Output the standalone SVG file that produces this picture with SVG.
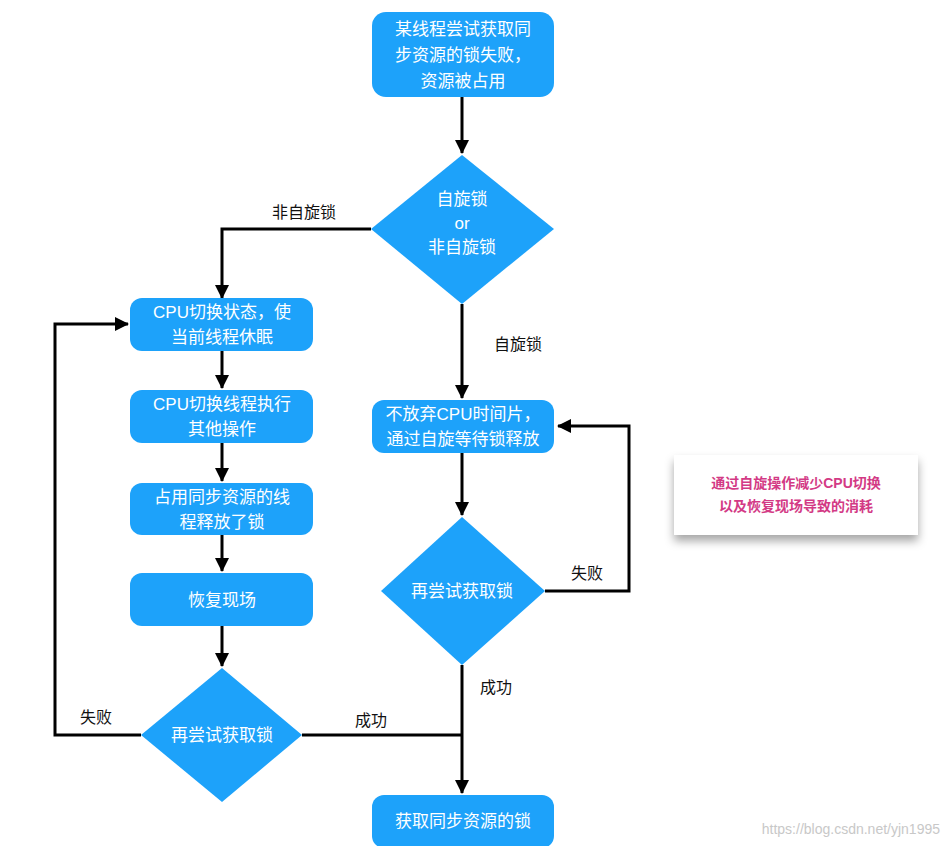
<svg xmlns="http://www.w3.org/2000/svg" width="951" height="846" viewBox="0 0 951 846">
<style>
.n{fill:#1DA2FA}
.t{fill:#fff;font-family:"Liberation Sans","Noto Sans CJK SC",sans-serif;font-size:17px;text-anchor:middle}
.l{fill:#111;font-family:"Liberation Sans","Noto Sans CJK SC",sans-serif;font-size:16px;text-anchor:middle}
.c{fill:none;stroke:#000;stroke-width:3}
</style>
<defs>
<marker id="a" markerWidth="8" markerHeight="8" refX="6" refY="4" orient="auto" markerUnits="userSpaceOnUse" viewBox="0 0 8 8"><path d="M0,0 L8,4 L0,8 Z" fill="#000"/></marker>
<marker id="b" markerWidth="14" markerHeight="14" refX="13" refY="7" orient="auto" markerUnits="userSpaceOnUse"><path d="M0,0 L14,7 L0,14 Z" fill="#000"/></marker>
<filter id="sh" x="-20%" y="-20%" width="140%" height="160%"><feDropShadow dx="0" dy="6" stdDeviation="5" flood-color="#000" flood-opacity="0.35"/></filter>
</defs>
<rect width="951" height="846" fill="#fff"/>
<g id="connectors">
<path class="c" d="M462,97 V153" marker-end="url(#b)"/>
<path class="c" d="M371,229 H222 V298" marker-end="url(#b)"/>
<path class="c" d="M462,304 V398" marker-end="url(#b)"/>
<path class="c" d="M222,351 V388" marker-end="url(#b)"/>
<path class="c" d="M222,443 V481" marker-end="url(#b)"/>
<path class="c" d="M222,535 V571" marker-end="url(#b)"/>
<path class="c" d="M222,626 V666" marker-end="url(#b)"/>
<path class="c" d="M141,735 H55 V324 H128" marker-end="url(#b)"/>
<path class="c" d="M302,735 H462"/>
<path class="c" d="M462,453 V515" marker-end="url(#b)"/>
<path class="c" d="M545,591 H629 V426 H558" marker-end="url(#b)"/>
<path class="c" d="M462,665 V793" marker-end="url(#b)"/>
<text class="l" x="304" y="218">非自旋锁</text>
<text class="l" x="518" y="350">自旋锁</text>
<text class="l" x="96" y="723">失败</text>
<text class="l" x="371" y="726">成功</text>
<text class="l" x="587" y="579">失败</text>
<text class="l" x="496" y="693">成功</text>
</g>
<g id="start"><rect class="n" x="372" y="12" width="182" height="85" rx="14"/>
<text class="t" x="463" y="35">某线程尝试获取同</text><text class="t" x="463" y="61">步资源的锁失败，</text><text class="t" x="463" y="87">资源被占用</text></g>
<g id="d1"><polygon class="n" points="462,155 554,229 462,304 371,229"/>
<text class="t" x="462" y="205">自旋锁</text><text class="t" x="462" y="229">or</text><text class="t" x="462" y="253">非自旋锁</text></g>
<g id="l1"><rect class="n" x="130" y="298" width="183" height="53" rx="12"/><text class="t" x="222" y="318">CPU切换状态，使</text><text class="t" x="222" y="343">当前线程休眠</text></g>
<g id="l2"><rect class="n" x="130" y="390" width="183" height="53" rx="12"/><text class="t" x="222" y="410">CPU切换线程执行</text><text class="t" x="222" y="435">其他操作</text></g>
<g id="l3"><rect class="n" x="130" y="483" width="183" height="52" rx="12"/><text class="t" x="222" y="503">占用同步资源的线</text><text class="t" x="222" y="528">程释放了锁</text></g>
<g id="l4"><rect class="n" x="130" y="573" width="183" height="53" rx="12"/><text class="t" x="222" y="606">恢复现场</text></g>
<g id="d2"><polygon class="n" points="222,668 302,735 222,802 141,735"/><text class="t" x="222" y="741">再尝试获取锁</text></g>
<g id="r1"><rect class="n" x="372" y="400" width="182" height="53" rx="12"/><text class="t" x="463" y="420">不放弃CPU时间片，</text><text class="t" x="463" y="445">通过自旋等待锁释放</text></g>
<g id="d3"><polygon class="n" points="462,517 545,591 462,665 381,591"/><text class="t" x="462" y="597">再尝试获取锁</text></g>
<g id="end"><rect class="n" x="372" y="795" width="182" height="53" rx="12"/><text class="t" x="463" y="827">获取同步资源的锁</text></g>
<g id="note"><rect x="674" y="455" width="244" height="80" fill="#fff" filter="url(#sh)"/>
<text x="796" y="488" text-anchor="middle" font-family="Liberation Sans,Noto Sans CJK SC,sans-serif" font-size="14" font-weight="bold" fill="#D33A85">通过自旋操作减少CPU切换</text>
<text x="796" y="511" text-anchor="middle" font-family="Liberation Sans,Noto Sans CJK SC,sans-serif" font-size="14" font-weight="bold" fill="#D33A85">以及恢复现场导致的消耗</text></g>
<text x="940" y="834" text-anchor="end" font-family="Liberation Sans,sans-serif" font-size="14" fill="#c8c8c8">https://blog.csdn.net/yjn1995</text>
</svg>
